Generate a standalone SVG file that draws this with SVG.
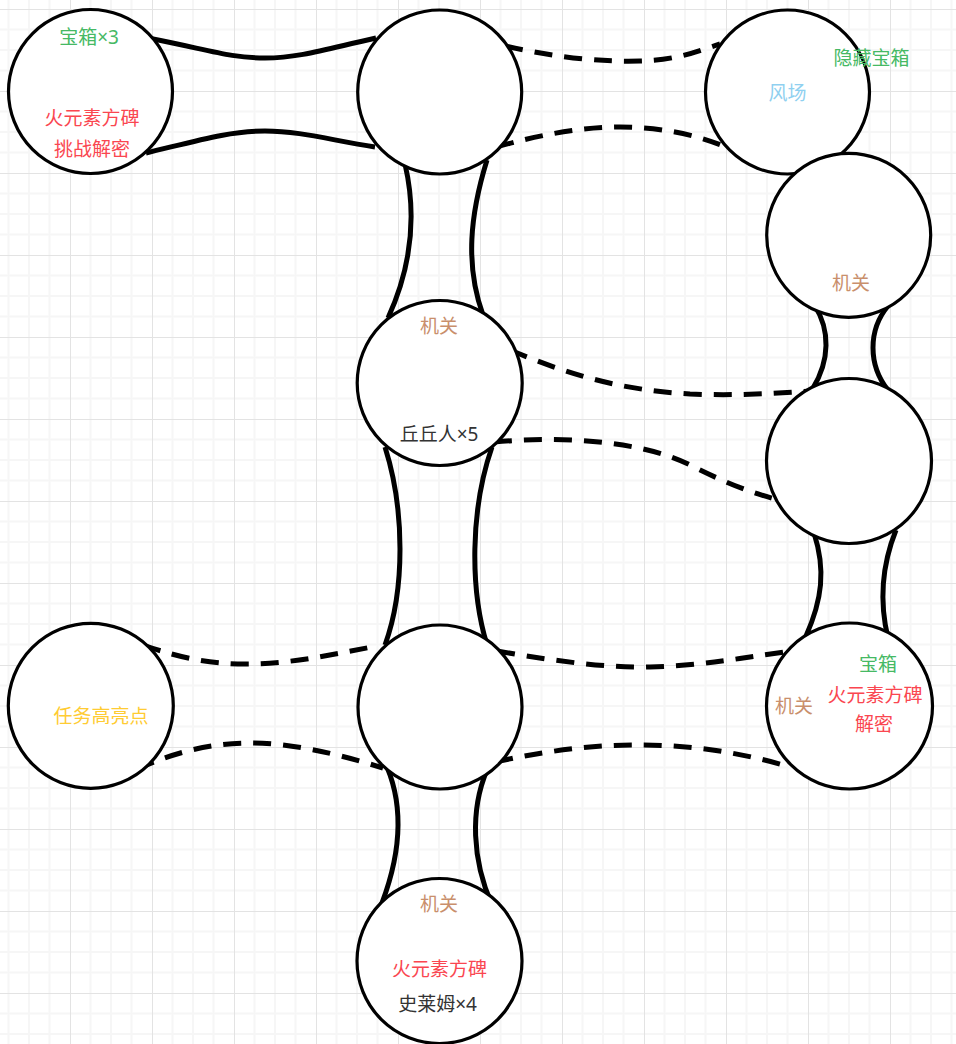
<svg xmlns="http://www.w3.org/2000/svg" width="956" height="1044" viewBox="0 0 956 1044">
<style>
.n{fill:#fff;stroke:#000;stroke-width:3.2}
.s{fill:none;stroke:#000;stroke-width:5}
.d{fill:none;stroke:#000;stroke-width:5;stroke-dasharray:18 12}
text{font-family:"Noto Sans","Noto Sans CJK SC",sans-serif;font-size:19px;text-anchor:middle;dominant-baseline:central}
.g{fill:#46B964}.r{fill:#FA4650}.b{fill:#C98F6C}.k{fill:#333}.y{fill:#FFCC33}.c{fill:#8FD0F0}
</style>
<defs>
<pattern id="grid" x="70" y="9" width="82" height="82" patternUnits="userSpaceOnUse">
<rect x="19.5" y="0" width="2" height="82" fill="#f6f6f6"/>
<rect x="40" y="0" width="2" height="82" fill="#f6f6f6"/>
<rect x="60.5" y="0" width="2" height="82" fill="#f6f6f6"/>
<rect x="0" y="19.5" width="82" height="2" fill="#f6f6f6"/>
<rect x="0" y="40" width="82" height="2" fill="#f6f6f6"/>
<rect x="0" y="60.5" width="82" height="2" fill="#f6f6f6"/>
<rect x="0" y="0" width="1" height="82" fill="#e3e3e3"/>
<rect x="0" y="0" width="82" height="1" fill="#e3e3e3"/>
</pattern>
</defs>
<rect width="956" height="1044" fill="#fff"/>
<rect width="956" height="1044" fill="url(#grid)"/>
<g id="connectors">
<path class="s" d="M148,38 C210,50 230,58 265,58 C300,58 330,48 376,38"/>
<path class="s" d="M146,153 C200,140 230,131 265,131 C300,131 330,140 375,147"/>
<path class="d" d="M505,46 C560,58 600,62 640,61 C680,60 700,50 720,44"/>
<path class="d" d="M496,147 C540,135 580,127 620,127 C660,127 700,135 730,149"/>
<path class="s" d="M405,164 C418,220 410,270 388,318"/>
<path class="s" d="M487,160 C470,215 465,265 483,315"/>
<path class="d" d="M510,350 C570,375 620,390 690,394 C740,396 780,393 812,391"/>
<path class="d" d="M494,442 C560,436 640,440 690,465 C730,485 750,492 778,500"/>
<path class="s" d="M385,447 C405,510 405,590 385,645"/>
<path class="s" d="M492,447 C470,510 470,590 487,645"/>
<path class="s" d="M815,306 C830,330 830,360 813,388"/>
<path class="s" d="M888,306 C868,330 868,365 888,390"/>
<path class="s" d="M814,533 C826,570 822,600 806,636"/>
<path class="s" d="M896,530 C880,570 880,605 888,638"/>
<path class="d" d="M143,645 C180,658 210,664 245,664 C290,664 330,655 377,646"/>
<path class="d" d="M137,769 C180,750 215,743 250,743 C290,743 335,753 383,768"/>
<path class="d" d="M497,651 C560,662 610,668 650,667 C700,666 740,658 785,652"/>
<path class="d" d="M495,762 C560,748 600,745 640,745 C690,745 740,752 790,767"/>
<path class="s" d="M387,767 C405,810 400,860 378,913"/>
<path class="s" d="M487,770 C470,810 472,860 492,905"/>
</g>
<g id="nodeA"><circle class="n" cx="90.5" cy="91.5" r="82"/>
<text class="g" x="89" y="37">宝箱×3</text>
<text class="r" x="92" y="118">火元素方碑</text>
<text class="r" x="92" y="149">挑战解密</text></g>
<g id="nodeB"><circle class="n" cx="439.7" cy="92" r="82"/></g>
<g id="nodeC"><circle class="n" cx="787.5" cy="92" r="82"/>
<text class="c" x="787.5" y="93">风场</text>
<text class="g" x="871.5" y="57.5">隐藏宝箱</text></g>
<g id="nodeD"><circle class="n" cx="848.7" cy="235.3" r="82"/>
<text class="b" x="851" y="283">机关</text></g>
<g id="nodeE"><circle class="n" cx="439.7" cy="383" r="82.5"/>
<text class="b" x="439" y="326">机关</text>
<text class="k" x="439" y="434">丘丘人×5</text></g>
<g id="nodeF"><circle class="n" cx="849" cy="461" r="82.5"/></g>
<g id="nodeG"><circle class="n" cx="90.8" cy="705.8" r="82.5"/>
<text class="y" x="101" y="716">任务高亮点</text></g>
<g id="nodeH"><circle class="n" cx="440" cy="707" r="82"/></g>
<g id="nodeI"><circle class="n" cx="849.5" cy="706" r="83"/>
<text class="g" x="878" y="663.5">宝箱</text>
<text class="r" x="875" y="694.5">火元素方碑</text>
<text class="r" x="874" y="724">解密</text>
<text class="b" x="794" y="706">机关</text></g>
<g id="nodeJ"><circle class="n" cx="439.5" cy="961" r="82.5"/>
<text class="b" x="439" y="903.5">机关</text>
<text class="r" x="439.5" y="969">火元素方碑</text>
<text class="k" x="437.5" y="1003.5">史莱姆×4</text></g>
</svg>
